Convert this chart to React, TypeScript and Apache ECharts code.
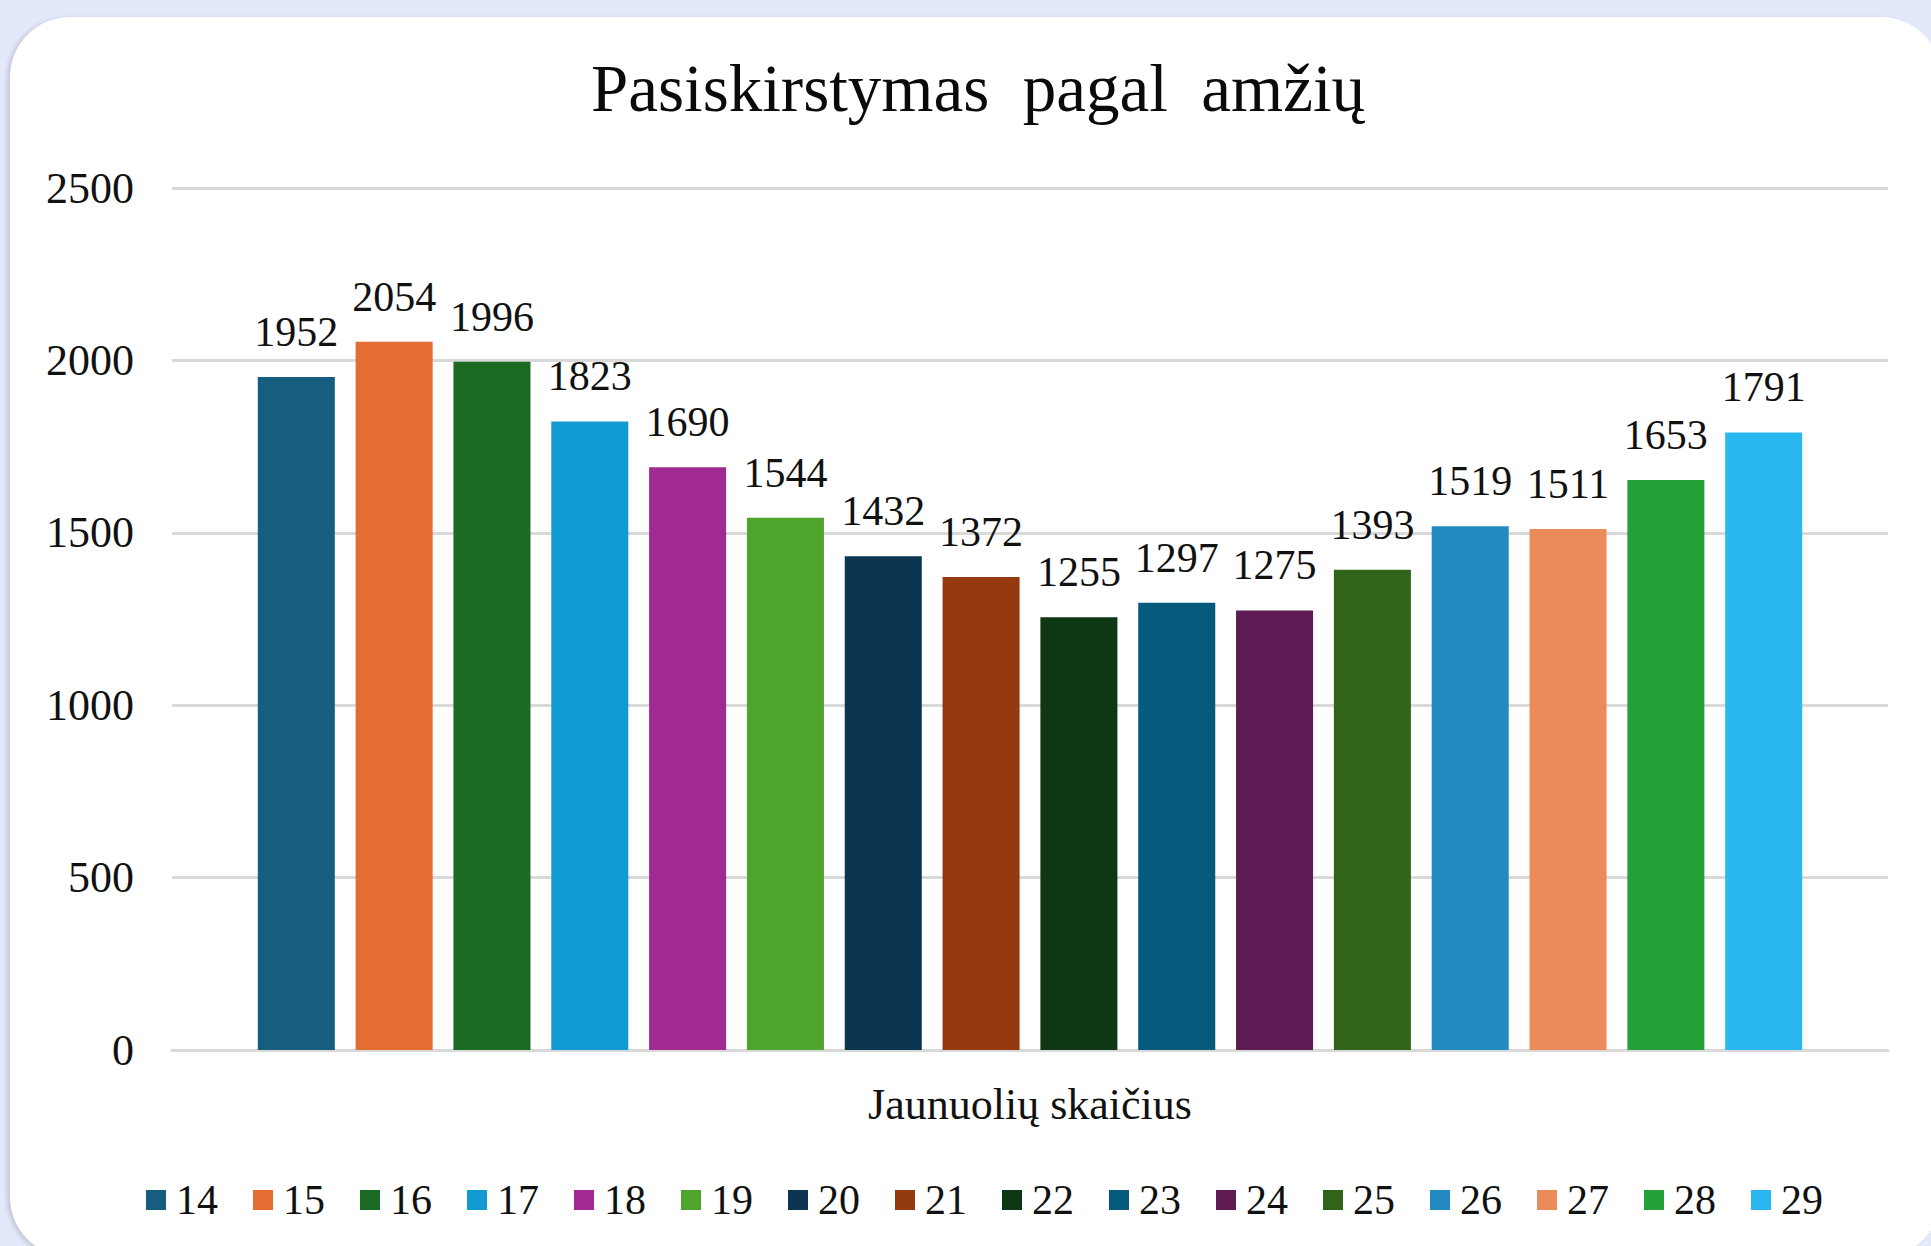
import React, { useEffect, useRef } from "react";
import * as echarts from "echarts";

const TITLE = "Pasiskirstymas  pagal  amžių";
const CATEGORY = ["Jaunuolių skaičius"];
const AGES = ["14", "15", "16", "17", "18", "19", "20", "21", "22", "23", "24", "25", "26", "27", "28", "29"];
const COUNTS = [1952, 2054, 1996, 1823, 1690, 1544, 1432, 1372, 1255, 1297, 1275, 1393, 1519, 1511, 1653, 1791];
const COLORS = [
  "#175D80", "#E46D33", "#1B6A23", "#129BD3", "#A02A91", "#4EA42D", "#0B3550", "#953A10",
  "#0E3814", "#065A7C", "#5E1A52", "#2F6419", "#218AC0", "#EC8B5A", "#23A23A", "#29B7EF",
];
const Y_MIN = 0;
const Y_MAX = 2500;
const Y_STEP = 500;

const FONT = '"Liberation Serif", "Times New Roman", serif';
const TEXT_COLOR = "#111111";
const GRID_COLOR = "#d9d9d9";

export default function App() {
  const ref = useRef<HTMLDivElement>(null);

  useEffect(() => {
    if (!ref.current) return;
    const chart = echarts.init(ref.current, undefined, { renderer: "svg" });
    chart.setOption({
      animation: false,
      color: COLORS,
      textStyle: { fontFamily: FONT },
      title: {
        text: TITLE,
        left: "center",
        top: 54,
        padding: 0,
        textStyle: { fontFamily: FONT, fontSize: 67, fontWeight: "normal", color: "#0a0a0a" },
      },
      legend: {
        data: AGES,
        left: 146,
        top: 1179,
        padding: 0,
        icon: "rect",
        itemWidth: 20,
        itemHeight: 20,
        itemGap: 35,
        textStyle: { fontFamily: FONT, fontSize: 42, color: TEXT_COLOR, padding: [0, 0, 0, 5] },
      },
      grid: { left: 172, right: 68, top: 188, bottom: 196, containLabel: false },
      xAxis: {
        type: "category",
        data: CATEGORY,
        axisTick: { show: false },
        axisLine: { lineStyle: { color: GRID_COLOR, width: 3 } },
        axisLabel: { fontFamily: FONT, fontSize: 44, color: TEXT_COLOR, margin: 32 },
      },
      yAxis: {
        type: "value",
        min: Y_MIN,
        max: Y_MAX,
        interval: Y_STEP,
        axisLine: { show: false },
        axisTick: { show: false },
        splitLine: { lineStyle: { color: GRID_COLOR, width: 3 } },
        axisLabel: {
          fontFamily: FONT,
          fontSize: 44,
          color: TEXT_COLOR,
          margin: 38,
          formatter: (v: number) => String(v),
        },
      },
      series: AGES.map((age, i) => ({
        name: age,
        type: "bar",
        data: [COUNTS[i]],
        barGap: "27%",
        barCategoryGap: "10%",
        itemStyle: { color: COLORS[i] },
        label: {
          show: true,
          position: "top",
          distance: 24,
          fontFamily: FONT,
          fontSize: 42,
          color: TEXT_COLOR,
        },
      })),
    });
    return () => chart.dispose();
  }, []);

  return (
    <div
      style={{
        position: "fixed",
        left: 0,
        top: 0,
        width: 1931,
        height: 1246,
        overflow: "hidden",
        background: "#E3E8FA",
      }}
    >
      <div
        style={{
          position: "absolute",
          left: 10,
          top: 17,
          width: 1931,
          height: 1240,
          borderRadius: 60,
          background: "#ffffff",
          boxShadow: "-3px 1px 4px rgba(0,0,0,0.14)",
        }}
      />
      <div ref={ref} style={{ position: "absolute", left: 0, top: 0, width: 1956, height: 1246 }} />
    </div>
  );
}
